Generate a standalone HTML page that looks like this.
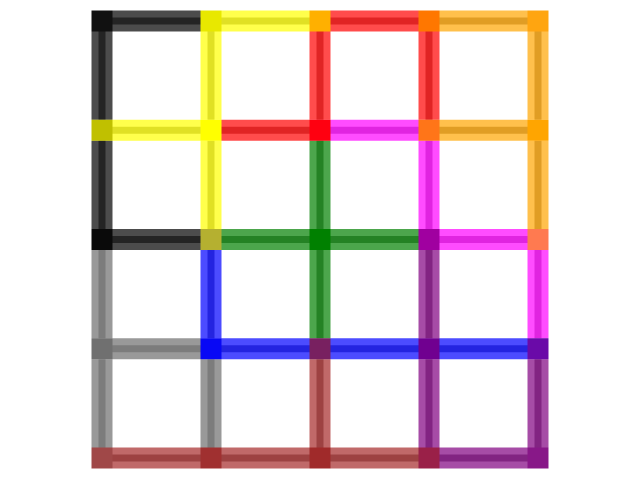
<!DOCTYPE html>
<html><head><meta charset="utf-8"><style>html,body{margin:0;padding:0;background:#fff;width:640px;height:480px;overflow:hidden}</style></head>
<body>
<svg id="chart" width="640" height="480" xmlns="http://www.w3.org/2000/svg"></svg>
<script>
// horizontal segments: rows (top to bottom), 4 segments left to right
const hColors = [
  ["black","yellow","red","orange"],
  ["yellow","red","magenta","orange"],
  ["black","green","green","magenta"],
  ["gray","blue","blue","blue"],
  ["brown","brown","brown","purple"]
];
// vertical segments: columns (left to right), 4 segments top to bottom
const vColors = [
  ["black","black","gray","gray"],
  ["yellow","yellow","blue","gray"],
  ["red","green","green","brown"],
  ["red","magenta","purple","purple"],
  ["orange","orange","magenta","purple"]
];
// blended node colors: rows top to bottom
const nodeColors = [
  ["#111111","#e8e800","#ffb000","#ff7700","#ffa510"],
  ["#c0c000","#ffff00","#ff0010","#ff7518","#ffa500"],
  ["#0a0a0a","#b5b030","#008000","#a000a0","#ff7a50"],
  ["#707070","#0808f5","#782060","#700090","#6a0aa8"],
  ["#a04848","#a03030","#a02a2a","#9a2048","#881888"]
];
const xs = i => 102 + 109 * i;
const ys = j => 21 + 109.25 * j;
const H = 10.5, S = 3.5;
const svg = document.getElementById('chart');
const NS = 'http://www.w3.org/2000/svg';
function rect(x,y,w,h,fill,op){
  const r = document.createElementNS(NS,'rect');
  r.setAttribute('x',x);r.setAttribute('y',y);r.setAttribute('width',w);r.setAttribute('height',h);
  r.setAttribute('fill',fill);r.setAttribute('fill-opacity',op);
  return r;
}
function seg(x1,y1,x2,y2,color,name){
  const g = document.createElementNS(NS,'g');
  
  
  const horiz = y1 === y2;
  if (horiz) {
    const a = x1 + H, w = x2 - x1 - 2*H;
    g.appendChild(rect(a, y1-H, w, 2*H, color, color==='gray'?0.8:0.7));
    g.appendChild(rect(a, y1-S, w, 2*S, color, 0.45));
    g.appendChild(rect(a, y1-S, w, 2*S, '#000', 0.12));
  } else {
    const a = y1 + H, h = y2 - y1 - 2*H;
    g.appendChild(rect(x1-H, a, 2*H, h, color, color==='gray'?0.8:0.7));
    g.appendChild(rect(x1-S, a, 2*S, h, color, 0.45));
    g.appendChild(rect(x1-S, a, 2*S, h, '#000', 0.12));
  }
  svg.appendChild(g);
}
hColors.forEach((row,j)=>row.forEach((c,i)=>seg(xs(i),ys(j),xs(i+1),ys(j),c,'h-segment-'+j+'-'+i)));
vColors.forEach((col,i)=>col.forEach((c,j)=>seg(xs(i),ys(j),xs(i),ys(j+1),c,'v-segment-'+i+'-'+j)));
nodeColors.forEach((row,j)=>row.forEach((c,i)=>{
  const r = rect(xs(i)-H, ys(j)-H, 2*H, 2*H, c, 1);
  
  
  svg.appendChild(r);
}));
</script>
</body></html>
